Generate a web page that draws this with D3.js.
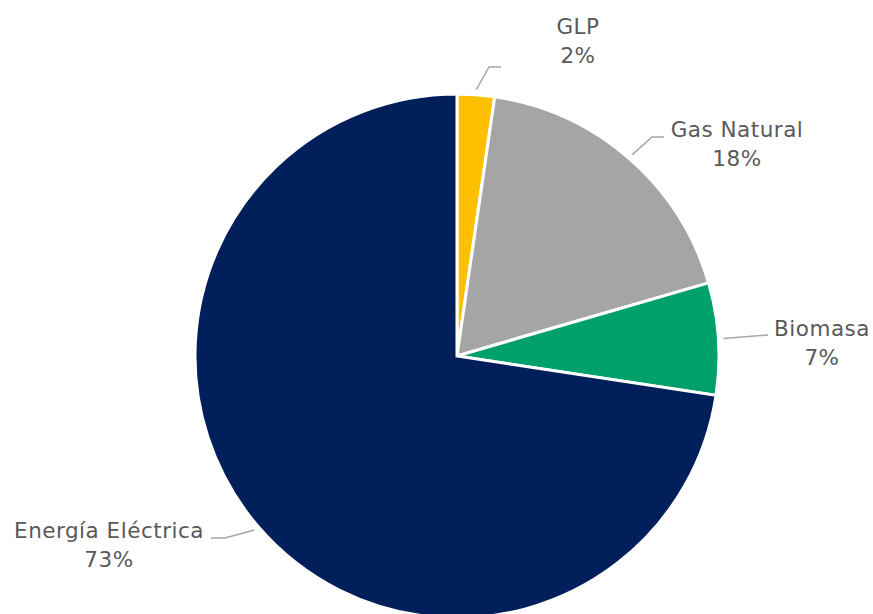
<!DOCTYPE html>
<html>
<head>
<meta charset="utf-8">
<script src="https://d3js.org/d3.v7.min.js"></script>
<style>
  body { margin: 0; background: #fff; }
  .lbl { font-family: "DejaVu Sans", sans-serif; font-size: 21.5px; letter-spacing: 0.5px; fill: #595959; }
</style>
</head>
<body>
<div id="chart"></div>
<script>
var svgWidth = 873;
var svgHeight = 614;

// data
var categories = ["GLP", "Gas Natural", "Biomasa", "Energía Eléctrica"];
var shares = [2.3, 18.2, 6.9, 72.6];
var colors = ["#ffc000", "#a5a5a5", "#00a06a", "#001f5b"];

// label layout (text centre x, first line baseline y, leader elbow)
var labelPos = [
  {x: 578, y: 34, ex: 489, ey: 67, tx: 501},
  {x: 737, y: 137, ex: 652, ey: 137, tx: 664},
  {x: 822, y: 336, ex: 768, ey: 335, tx: 768},
  {x: 109, y: 538, ex: 225, ey: 538, tx: 211}
];

var cx = 457, cy = 356, radius = 262;

var svg = d3.select("#chart")
  .append("svg")
  .attr("width", svgWidth)
  .attr("height", svgHeight);

var g = svg.append("g")
  .attr("transform", `translate(${cx}, ${cy})`);

var data = categories.map(function(c, i) {
  return {name: c, value: shares[i], color: colors[i], pos: labelPos[i]};
});

var pie = d3.pie().sort(null).value(d => d.value);
var arc = d3.arc().innerRadius(0).outerRadius(radius);
var total = d3.sum(shares);

var arcs = pie(data);

g.selectAll("path.slice")
  .data(arcs)
  .enter()
  .append("path")
  .attr("class", "slice")
  .attr("d", arc)
  .attr("fill", d => d.data.color)
  .attr("stroke", "#fff")
  .attr("stroke-width", 3)
  .attr("stroke-linejoin", "miter");

// leader lines + labels
var lineRadius = radius + 5;
arcs.forEach(function(d) {
  var mid = (d.startAngle + d.endAngle) / 2;
  var sx = cx + lineRadius * Math.sin(mid);
  var sy = cy - lineRadius * Math.cos(mid);
  var p = d.data.pos;
  svg.append("polyline")
    .attr("points", `${sx},${sy} ${p.ex},${p.ey} ${p.tx},${p.ey}`)
    .attr("fill", "none")
    .attr("stroke", "#a6a6a6")
    .attr("stroke-width", 1.5);

  var t = svg.append("text")
    .attr("class", "lbl")
    .attr("text-anchor", "middle")
    .attr("x", p.x)
    .attr("y", p.y);
  t.append("tspan").attr("x", p.x).text(d.data.name);
  t.append("tspan").attr("x", p.x).attr("dy", 29)
    .text(Math.round(d.data.value / total * 100) + "%");
});
</script>
</body>
</html>
